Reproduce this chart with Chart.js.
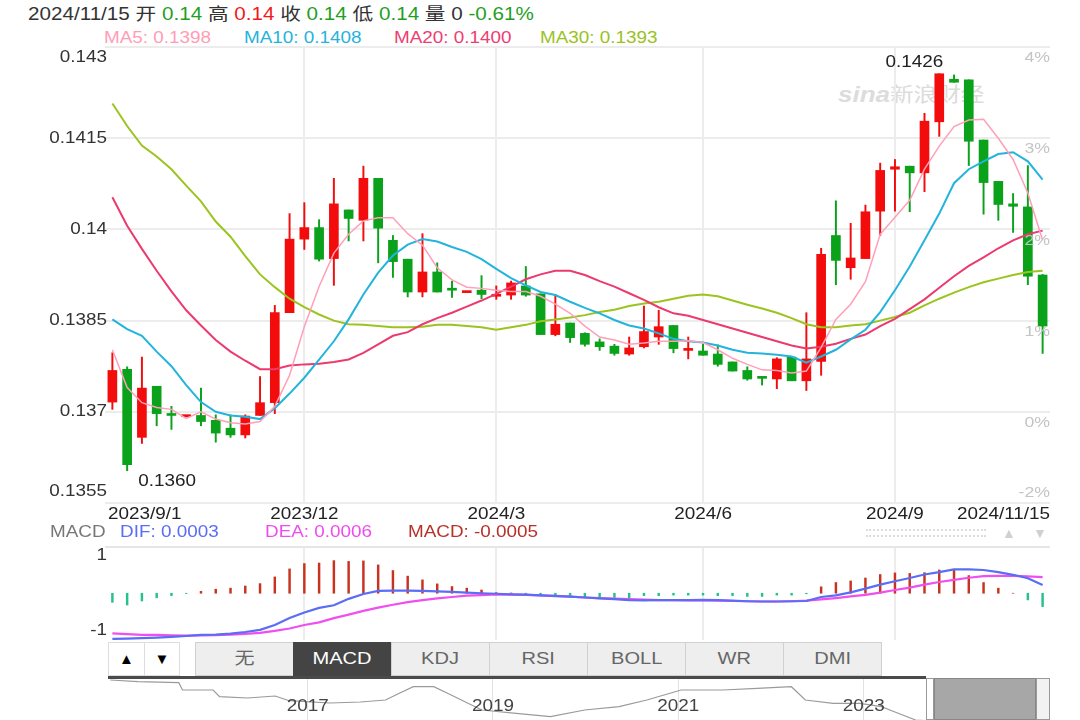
<!DOCTYPE html>
<html>
<head>
<meta charset="utf-8">
<script src="https://cdn.jsdelivr.net/npm/chart.js@4.4.1/dist/chart.umd.min.js"></script>
<style>
  body { margin: 0; width: 1080px; height: 720px; overflow: hidden; background: #fff; position: relative;
         font-family: Arial, "Liberation Sans", "Noto Sans CJK SC", sans-serif; }
  .t { position: absolute; white-space: nowrap; transform: scaleX(1.18); transform-origin: 0 50%; }
  canvas { position: absolute; left: 0; }
  .g { color: #1f9f1f; }
  .r { color: #f21a1a; }
  .tab { position: absolute; top: 642px; height: 34px; width: 99px; box-sizing: border-box; background: #eee;
         border: 1px solid #d0d0d0; color: #666; font-size: 17px; line-height: 32px; text-align: center; }
  .tab span { display: inline-block; transform: scaleX(1.18); }
  .tab.on { background: #444; color: #fff; border-color: #444; }
  .box { position: absolute; top: 642px; height: 34px; box-sizing: border-box; border: 1px solid #ddd;
         background: #fff; color: #000; font-size: 15px; line-height: 32px; text-align: center; }
</style>
</head>
<body>

<div class="t" style="left:28px;top:4px;font-size:17.5px;line-height:20px;color:#333">2024/11/15 开 <span class="g">0.14</span> 高 <span class="r">0.14</span> 收 <span class="g">0.14</span> 低 <span class="g">0.14</span> 量 0 <span class="g">-0.61%</span></div>
<div class="t" style="left:104px;top:28px;font-size:16px;line-height:20px;color:#ff9db6">MA5: 0.1398</div>
<div class="t" style="left:244px;top:28px;font-size:16px;line-height:20px;color:#25b3dc">MA10: 0.1408</div>
<div class="t" style="left:394px;top:28px;font-size:16px;line-height:20px;color:#ee3d72">MA20: 0.1400</div>
<div class="t" style="left:540px;top:28px;font-size:16px;line-height:20px;color:#9ac21e">MA30: 0.1393</div>

<div class="t" style="left:838px;top:83px;color:#dcdcdc;line-height:24px"><span style="font-size:22px;font-style:italic;font-weight:bold">sina</span><span style="font-size:20px">新浪财经</span></div>

<canvas id="kline" width="1080" height="530" style="top:0"></canvas>

<div class="t" style="left:50px;top:522px;font-size:16px;line-height:20px;color:#777">MACD</div>
<div class="t" style="left:120px;top:522px;font-size:16px;line-height:20px;color:#5b6cf5">DIF: 0.0003</div>
<div class="t" style="left:265px;top:522px;font-size:16px;line-height:20px;color:#ee4cee">DEA: 0.0006</div>
<div class="t" style="left:408px;top:522px;font-size:16px;line-height:20px;color:#b8302a">MACD: -0.0005</div>
<div style="position:absolute;left:866px;top:529px;width:120px;height:4px;border-top:2px dotted #ddd;border-bottom:2px dotted #ddd"></div>
<div style="position:absolute;left:1002px;top:525px;font-size:14px;color:#d0d0d0">▲</div>
<div style="position:absolute;left:1033px;top:525px;font-size:14px;color:#d0d0d0">▼</div>

<canvas id="macd" width="1080" height="102" style="top:540px"></canvas>

<div class="box" style="left:108px;width:37px">▲</div>
<div class="box" style="left:144px;width:36px">▼</div>
<div class="tab" style="left:195px"><span>无</span></div>
<div class="tab on" style="left:293px"><span>MACD</span></div>
<div class="tab" style="left:391px"><span>KDJ</span></div>
<div class="tab" style="left:489px"><span>RSI</span></div>
<div class="tab" style="left:587px"><span>BOLL</span></div>
<div class="tab" style="left:685px"><span>WR</span></div>
<div class="tab" style="left:783px"><span>DMI</span></div>

<canvas id="nav" width="1080" height="42" style="top:678px"></canvas>
<div style="position:absolute;left:108px;top:676px;width:818px;height:3px;background:#4a4a4a"></div>
<div style="position:absolute;left:926px;top:678px;width:8px;height:42px;box-sizing:border-box;background:#fff;border:1px solid #999"></div>
<div style="position:absolute;left:934px;top:678px;width:102px;height:42px;box-sizing:border-box;background:#a7a7a7;border:1px solid #888"></div>
<div style="position:absolute;left:1036px;top:678px;width:14px;height:42px;box-sizing:border-box;background:#f2f2f2;border:1px solid #999"></div>

<script>
const dates = [
  '2023/9/1','2023/9/8','2023/9/15','2023/9/22','2023/9/29','2023/10/6','2023/10/13','2023/10/20','2023/10/27','2023/11/3',
  '2023/11/10','2023/11/17','2023/11/24','2023/12/1','2023/12/8','2023/12/15','2023/12/22','2023/12/29','2024/1/5','2024/1/12',
  '2024/1/19','2024/1/26','2024/2/2','2024/2/9','2024/2/16','2024/2/23','2024/3/1','2024/3/8','2024/3/15','2024/3/22',
  '2024/3/29','2024/4/5','2024/4/12','2024/4/19','2024/4/26','2024/5/3','2024/5/10','2024/5/17','2024/5/24','2024/5/31',
  '2024/6/7','2024/6/14','2024/6/21','2024/6/28','2024/7/5','2024/7/12','2024/7/19','2024/7/26','2024/8/2','2024/8/9',
  '2024/8/16','2024/8/23','2024/8/30','2024/9/6','2024/9/13','2024/9/20','2024/9/27','2024/10/4','2024/10/11','2024/10/18',
  '2024/10/25','2024/11/1','2024/11/8','2024/11/15'
]

const opens = [
  0.13716,0.13770,0.13658,0.13742,0.13696,0.13692,0.13694,0.13686,0.13673,0.13662,
  0.13694,0.13715,0.13863,0.13984,0.14003,0.13952,0.14032,0.14015,0.14084,0.13982,
  0.13951,0.13897,0.13930,0.13901,0.13896,0.13900,0.13890,0.13892,0.13907,0.13894,
  0.13827,0.13846,0.13829,0.13815,0.13808,0.13795,0.13807,0.13823,0.13842,0.13801,
  0.13800,0.13795,0.13782,0.13768,0.13757,0.13754,0.13790,0.13751,0.13783,0.13990,
  0.13937,0.13952,0.14030,0.14099,0.14104,0.14093,0.14177,0.14247,0.14246,0.14147,
  0.14079,0.14042,0.14037,0.13925
]
const highs = [
  0.13797,0.13774,0.13790,0.13742,0.13709,0.13692,0.13739,0.13695,0.13695,0.13695,
  0.13758,0.13875,0.14026,0.14044,0.14016,0.14084,0.14032,0.14104,0.14084,0.13990,
  0.13951,0.13993,0.13945,0.13915,0.13896,0.13924,0.13907,0.13915,0.13939,0.13894,
  0.13893,0.13846,0.13830,0.13820,0.13811,0.13823,0.13874,0.13867,0.13842,0.13823,
  0.13811,0.13810,0.13782,0.13774,0.13757,0.13789,0.13790,0.13863,0.13969,0.14047,
  0.14010,0.14040,0.14109,0.14115,0.14104,0.14191,0.14256,0.14254,0.14246,0.14147,
  0.14079,0.14059,0.14105,0.13926
]
const lows = [
  0.13704,0.13603,0.13648,0.13677,0.13671,0.13692,0.13677,0.13650,0.13658,0.13657,
  0.13694,0.13697,0.13863,0.13967,0.13948,0.13908,0.13981,0.13981,0.13945,0.13921,
  0.13889,0.13889,0.13897,0.13888,0.13896,0.13886,0.13885,0.13885,0.13890,0.13827,
  0.13825,0.13814,0.13808,0.13801,0.13793,0.13793,0.13805,0.13811,0.13797,0.13787,
  0.13793,0.13775,0.13767,0.13752,0.13744,0.13738,0.13751,0.13735,0.13760,0.13909,
  0.13918,0.13952,0.13990,0.14030,0.14029,0.14062,0.14153,0.14242,0.14105,0.14025,
  0.14015,0.13995,0.13909,0.13796
]
const closes = [
  0.13768,0.13613,0.13739,0.13697,0.13694,0.13692,0.13684,0.13665,0.13662,0.13693,
  0.13715,0.13863,0.13984,0.14003,0.13951,0.14042,0.14018,0.14084,0.14002,0.13947,
  0.13897,0.13930,0.13897,0.13900,0.13896,0.13893,0.13893,0.13912,0.13892,0.13827,
  0.13844,0.13822,0.13811,0.13807,0.13796,0.13805,0.13832,0.13840,0.13804,0.13802,
  0.13793,0.13778,0.13767,0.13754,0.13755,0.13787,0.13751,0.13787,0.13959,0.13949,
  0.13953,0.14029,0.14097,0.14103,0.14093,0.14178,0.14256,0.14242,0.14145,0.14077,
  0.14041,0.14038,0.13923,0.13841
]

const ma5 = [
  0.13802,0.13740,0.13715,0.13707,0.13704,0.13689,0.13700,0.13688,0.13682,0.13680,
  0.13684,0.13709,0.13760,0.13840,0.13906,0.13961,0.13992,0.14014,0.14019,0.14019,
  0.13993,0.13974,0.13937,0.13917,0.13905,0.13903,0.13900,0.13898,0.13898,0.13890,
  0.13877,0.13862,0.13841,0.13823,0.13818,0.13811,0.13813,0.13816,0.13816,0.13817,
  0.13814,0.13802,0.13788,0.13778,0.13769,0.13768,0.13764,0.13767,0.13806,0.13852,
  0.13877,0.13914,0.13992,0.14020,0.14048,0.14099,0.14137,0.14169,0.14180,0.14181,
  0.14150,0.14115,0.14060,0.13982
]
const ma10 = [
  0.13852,0.13836,0.13825,0.13799,0.13775,0.13744,0.13716,0.13700,0.13694,0.13692,
  0.13688,0.13706,0.13730,0.13756,0.13786,0.13816,0.13852,0.13893,0.13929,0.13957,
  0.13975,0.13984,0.13980,0.13971,0.13963,0.13951,0.13935,0.13920,0.13908,0.13897,
  0.13892,0.13881,0.13871,0.13862,0.13851,0.13842,0.13837,0.13829,0.13820,0.13816,
  0.13814,0.13809,0.13802,0.13797,0.13796,0.13794,0.13791,0.13781,0.13791,0.13802,
  0.13819,0.13835,0.13864,0.13900,0.13939,0.13982,0.14026,0.14076,0.14099,0.14112,
  0.14124,0.14127,0.14112,0.14082
]
const ma20 = [
  0.14053,0.14006,0.13968,0.13932,0.13898,0.13867,0.13842,0.13818,0.13799,0.13784,
  0.13770,0.13770,0.13776,0.13778,0.13779,0.13782,0.13786,0.13797,0.13811,0.13825,
  0.13831,0.13844,0.13854,0.13863,0.13873,0.13883,0.13894,0.13906,0.13918,0.13926,
  0.13932,0.13932,0.13925,0.13915,0.13906,0.13895,0.13884,0.13872,0.13862,0.13858,
  0.13851,0.13844,0.13837,0.13830,0.13823,0.13816,0.13809,0.13804,0.13807,0.13812,
  0.13820,0.13827,0.13841,0.13853,0.13869,0.13885,0.13904,0.13923,0.13940,0.13954,
  0.13969,0.13982,0.13992,0.13998
]
const ma30 = [
  0.14207,0.14170,0.14138,0.14120,0.14099,0.14072,0.14046,0.14013,0.13988,0.13956,
  0.13926,0.13905,0.13886,0.13872,0.13860,0.13850,0.13844,0.13843,0.13841,0.13839,
  0.13839,0.13840,0.13843,0.13843,0.13841,0.13839,0.13835,0.13839,0.13843,0.13849,
  0.13852,0.13855,0.13859,0.13864,0.13868,0.13874,0.13878,0.13881,0.13886,0.13891,
  0.13893,0.13890,0.13883,0.13876,0.13870,0.13863,0.13854,0.13844,0.13839,0.13839,
  0.13842,0.13844,0.13850,0.13856,0.13863,0.13875,0.13886,0.13896,0.13905,0.13913,
  0.13919,0.13925,0.13930,0.13932
]

const dif = [
  -0.00171,-0.00170,-0.00168,-0.00166,-0.00163,-0.00160,-0.00156,-0.00155,-0.00151,-0.00145,
  -0.00137,-0.00119,-0.00093,-0.00072,-0.00055,-0.00045,-0.00021,-0.00003,0.00009,0.00010,
  0.00010,0.00009,0.00007,0.00005,0.00002,0.00000,-0.00002,-0.00004,-0.00005,-0.00008,
  -0.00010,-0.00013,-0.00016,-0.00019,-0.00022,-0.00026,-0.00027,-0.00026,-0.00026,-0.00026,
  -0.00025,-0.00026,-0.00028,-0.00030,-0.00031,-0.00031,-0.00030,-0.00029,-0.00014,-0.00008,
  0.00003,0.00017,0.00032,0.00045,0.00057,0.00070,0.00079,0.00089,0.00089,0.00087,
  0.00079,0.00069,0.00056,0.00031
]
const dea = [
  -0.00150,-0.00153,-0.00156,-0.00156,-0.00158,-0.00159,-0.00158,-0.00157,-0.00155,-0.00152,
  -0.00148,-0.00141,-0.00132,-0.00119,-0.00109,-0.00093,-0.00080,-0.00066,-0.00054,-0.00043,
  -0.00033,-0.00026,-0.00019,-0.00014,-0.00009,-0.00007,-0.00004,-0.00005,-0.00006,-0.00008,
  -0.00011,-0.00013,-0.00016,-0.00018,-0.00020,-0.00022,-0.00024,-0.00026,-0.00026,-0.00027,
  -0.00027,-0.00028,-0.00029,-0.00030,-0.00031,-0.00031,-0.00030,-0.00028,-0.00023,-0.00018,
  -0.00012,-0.00006,0.00002,0.00012,0.00021,0.00032,0.00042,0.00050,0.00058,0.00064,
  0.00065,0.00065,0.00063,0.00060
]
const macdHist = [
  -0.00034,-0.00044,-0.00029,-0.00017,-0.00009,-0.00001,0.00007,0.00015,0.00019,0.00027,
  0.00036,0.00061,0.00091,0.00111,0.00113,0.00122,0.00119,0.00121,0.00106,0.00085,
  0.00064,0.00050,0.00035,0.00025,0.00019,0.00012,0.00002,0.00001,-0.00002,-0.00009,
  -0.00012,-0.00012,-0.00016,-0.00016,-0.00016,-0.00019,-0.00009,-0.00009,-0.00007,-0.00007,
  -0.00007,-0.00009,-0.00009,-0.00012,-0.00012,-0.00007,-0.00007,-0.00002,0.00024,0.00040,
  0.00046,0.00057,0.00070,0.00076,0.00074,0.00077,0.00087,0.00087,0.00066,0.00040,
  0.00019,0.00000,-0.00025,-0.00050
]

// axis ticks
const priceTicks = [0.143, 0.1415, 0.14, 0.1385, 0.137, 0.1355]
const priceTickText = ['0.143', '0.1415', '0.14', '0.1385', '0.137', '0.1355']
const pctTickText = ['4%', '3%', '2%', '1%', '0%', '-2%']
const gridMonths = ['2023/12', '2024/3', '2024/6', '2024/9']
const dateTickText = ['2023/9/1', '2023/12', '2024/3', '2024/6', '2024/9', '2024/11/15']
const macdTicks = [0.0014, -0.0014]
const macdTickText = ['1', '-1']

// navigator (long history, unlabelled level)
const navYears = [2014.87, 2015.17, 2015.61, 2015.65, 2015.98, 2016.05, 2016.35, 2016.65, 2016.8, 2017.24,
  2017.57, 2017.84, 2017.99, 2018.14, 2018.36, 2018.51, 2018.73, 2018.88, 2019.25, 2019.62,
  2019.99, 2020.36, 2020.66, 2021.03, 2021.48, 2021.85, 2022.22, 2022.37, 2022.67, 2022.96,
  2023.19, 2023.33, 2023.56, 2023.9]
const navLevels = [40, 38.3, 37.3, 30, 30, 23.3, 22, 24, 19.3, 17,
  18, 20, 26.7, 33.3, 33.3, 26.7, 16.7, 10, 6.7, 3.3,
  10, 13.3, 20, 30, 30, 31.7, 33.3, 20, 16.7, 16.7,
  13.3, 8.3, 0, -2]
const navYearTicks = [2017, 2019, 2021, 2023]

const RED = '#f20c0c'
const GREEN = '#0aa11b'
const GRID = '#ececec'
const SX = 1.18
const FONT = 'Arial, "Liberation Sans", sans-serif'

const gridIdx = gridMonths.map(m => dates.findIndex(d => d.startsWith(m + '/')))
const dateTickIdx = [0, ...gridIdx, dates.length - 1]
const candleColors = opens.map((o, i) => closes[i] >= o ? RED : GREEN)

function wideText(ctx, text, x, y, align, color, size) {
  ctx.save()
  ctx.font = size + 'px ' + FONT
  ctx.fillStyle = color
  ctx.textBaseline = 'middle'
  ctx.textAlign = 'left'
  const w = ctx.measureText(text).width * SX
  const left = align === 'right' ? x - w : align === 'center' ? x - w / 2 : x
  ctx.translate(left, y)
  ctx.scale(SX, 1)
  ctx.fillText(text, 0, 0)
  ctx.restore()
}

const klineText = {
  id: 'klineText',
  afterDraw(chart) {
    const {ctx, chartArea: a, scales: {x, y}} = chart
    priceTicks.forEach((v, i) => {
      const py = y.getPixelForValue(v)
      wideText(ctx, priceTickText[i], a.left + 2, Math.min(Math.max(py, a.top + 11), a.bottom - 11), 'right', '#333', 16)
      const last = i === priceTicks.length - 1
      wideText(ctx, pctTickText[i], a.right, last ? py - 10 : py + 11, 'right', '#c4c4c4', 15)
    })
    dateTickIdx.forEach((idx, i) => {
      const first = i === 0
      const last = i === dateTickIdx.length - 1
      const px = first ? a.left + 3 : last ? a.right : x.getPixelForValue(idx)
      wideText(ctx, dateTickText[i], px, a.bottom + 12, first ? 'left' : last ? 'right' : 'center', '#222', 16)
    })
    const hi = highs.indexOf(Math.max(...highs))
    const lo = lows.indexOf(Math.min(...lows))
    wideText(ctx, highs[hi].toFixed(4), x.getPixelForValue(hi) + 4, y.getPixelForValue(highs[hi]) - 11, 'right', '#222', 16)
    wideText(ctx, lows[lo].toFixed(4), x.getPixelForValue(lo) + 11, y.getPixelForValue(lows[lo]) + 11, 'left', '#222', 16)
  }
}

function maLine(label, data, color, width) {
  return {type: 'line', label: label, data: data, borderColor: color, borderWidth: width,
          pointRadius: 0, tension: 0, fill: false, order: 0}
}

const xGrid = {
  offset: false,
  drawTicks: false,
  lineWidth: 2,
  color: ctx => gridIdx.includes(ctx.index) ? GRID : 'rgba(0,0,0,0)'
}

new Chart(document.getElementById('kline'), {
  type: 'bar',
  data: {
    labels: dates,
    datasets: [
      maLine('MA5', ma5, '#ff9fb8', 1.5),
      maLine('MA10', ma10, '#22b4dc', 2),
      maLine('MA20', ma20, '#ec3a6e', 2),
      maLine('MA30', ma30, '#9bc41f', 2),
      {label: 'body', data: opens.map((o, i) => [o, closes[i]]), backgroundColor: candleColors,
       barThickness: 9, minBarLength: 2, grouped: false, order: 1},
      {label: 'wick', data: lows.map((l, i) => [l, highs[i]]), backgroundColor: candleColors,
       barThickness: 1.3, grouped: false, order: 2}
    ]
  },
  options: {
    responsive: false,
    animation: false,
    layout: {padding: {left: 105, right: 30, top: 47, bottom: 27}},
    plugins: {legend: {display: false}, tooltip: {enabled: false}},
    scales: {
      x: {ticks: {display: false}, grid: xGrid, border: {display: false}},
      y: {
        min: 0.1355, max: 0.143,
        afterBuildTicks: s => { s.ticks = priceTicks.map(v => ({value: v})) },
        ticks: {display: false},
        grid: {color: GRID, lineWidth: 2, drawTicks: false},
        border: {display: false}
      }
    }
  },
  plugins: [klineText]
})

const macdText = {
  id: 'macdText',
  afterDraw(chart) {
    const {ctx, chartArea: a, scales: {y}} = chart
    macdTicks.forEach((v, i) => {
      wideText(ctx, macdTickText[i], a.left + 2, y.getPixelForValue(v), 'right', '#333', 16)
    })
  }
}

new Chart(document.getElementById('macd'), {
  type: 'bar',
  data: {
    labels: dates,
    datasets: [
      {type: 'line', label: 'DIF', data: dif, borderColor: '#5b6cf5', borderWidth: 2.2, pointRadius: 0, order: 0},
      {type: 'line', label: 'DEA', data: dea, borderColor: '#f04ff0', borderWidth: 2.2, pointRadius: 0, order: 1},
      {label: 'MACD', data: macdHist, backgroundColor: macdHist.map(v => v >= 0 ? '#c8321e' : '#27c08f'),
       barThickness: 1.8, order: 2}
    ]
  },
  options: {
    responsive: false,
    animation: false,
    layout: {padding: {left: 105, right: 30, top: 7, bottom: 2}},
    plugins: {legend: {display: false}, tooltip: {enabled: false}},
    scales: {
      x: {ticks: {display: false}, grid: xGrid, border: {display: false}},
      y: {
        min: -0.00175, max: 0.00173,
        afterBuildTicks: s => { s.ticks = [{value: s.max}] },
        ticks: {display: false},
        grid: {color: '#e6e6e6', lineWidth: 2, drawTicks: false},
        border: {display: false}
      }
    }
  },
  plugins: [macdText]
})

const navText = {
  id: 'navText',
  afterDraw(chart) {
    const {ctx, scales: {x}} = chart
    navYearTicks.forEach(yr => wideText(ctx, String(yr), x.getPixelForValue(yr), 29, 'center', '#444', 16))
  }
}

new Chart(document.getElementById('nav'), {
  type: 'line',
  data: {
    datasets: [{data: navYears.map((yr, i) => ({x: yr, y: navLevels[i]})), borderColor: '#9a9a9a',
                borderWidth: 1.2, pointRadius: 0, tension: 0}]
  },
  options: {
    responsive: false,
    animation: false,
    layout: {padding: {left: 108, right: 30, top: 0, bottom: 0}},
    plugins: {legend: {display: false}, tooltip: {enabled: false}},
    scales: {
      x: {
        type: 'linear', min: 2014.846, max: 2025.01,
        afterBuildTicks: s => { s.ticks = navYearTicks.map(v => ({value: v})) },
        ticks: {display: false},
        grid: {color: '#e2e2e2', lineWidth: 1, drawTicks: false},
        border: {display: false}
      },
      y: {min: 0, max: 42, display: false}
    }
  },
  plugins: [navText]
})
</script>
</body>
</html>
